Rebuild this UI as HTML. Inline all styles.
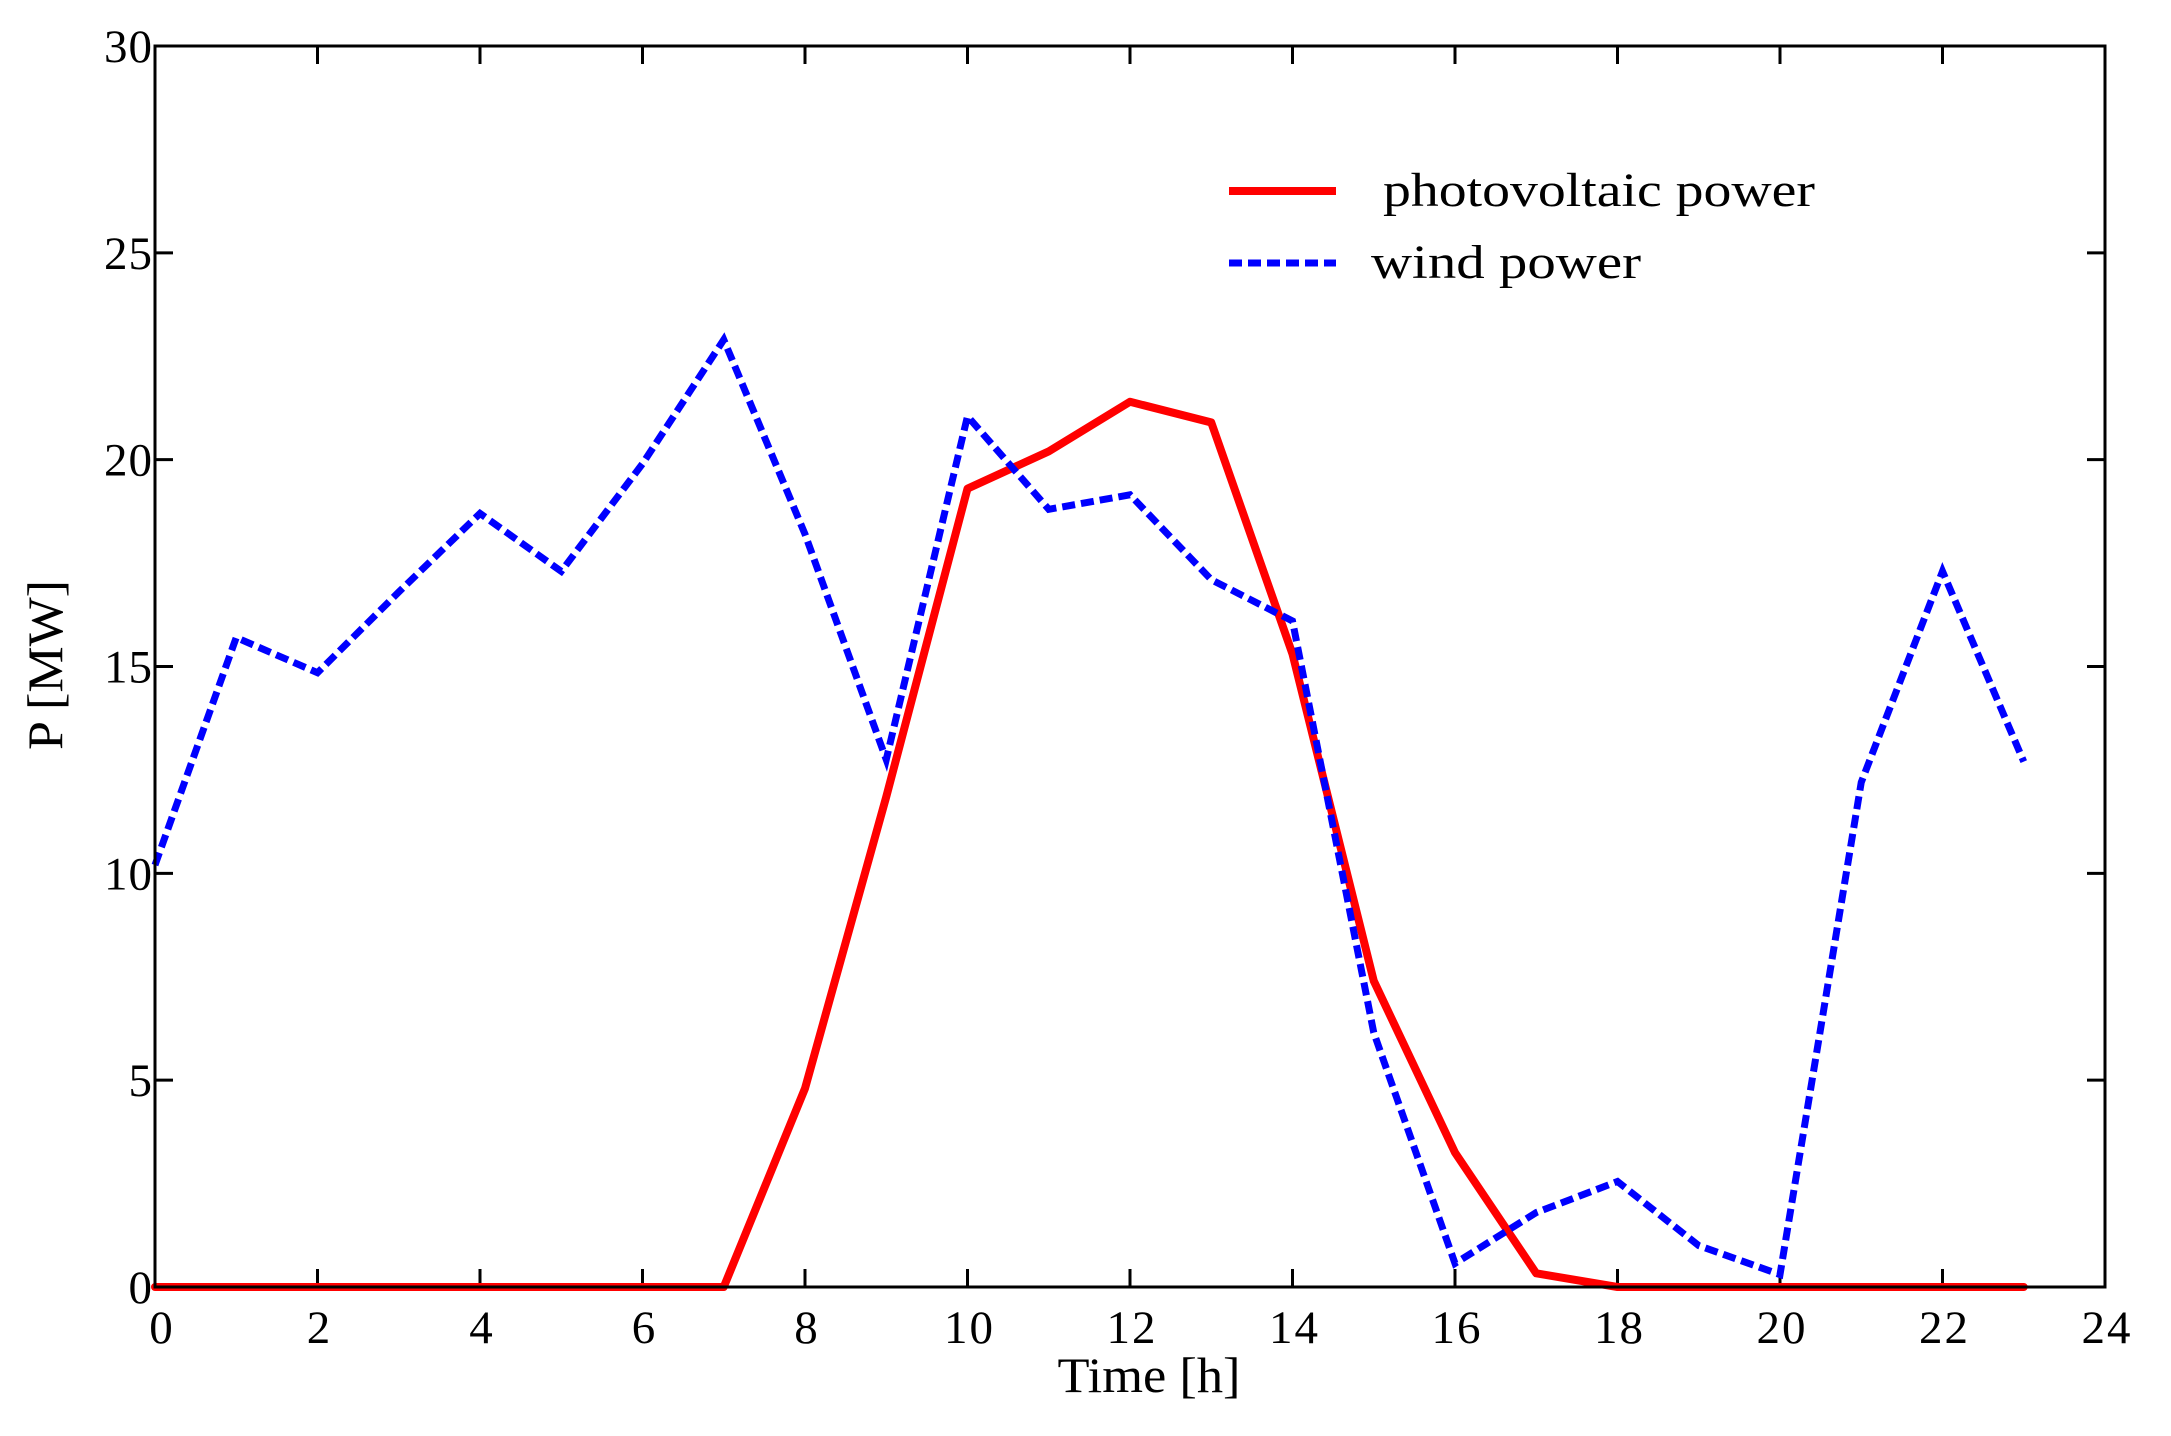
<!DOCTYPE html>
<html><head><meta charset="utf-8"><style>
html,body{margin:0;padding:0;background:#fff}
svg{display:block}
text{font-family:"Liberation Serif",serif;fill:#000}
</style></head><body>
<svg id="chart" width="2171" height="1436" viewBox="0 0 2171 1436" xmlns="http://www.w3.org/2000/svg">
<g id="ticks"></g>
<g id="series"></g>
<rect x="155" y="46" width="1950" height="1241" fill="none" stroke="#000" stroke-width="3"/>
<text x="1149" y="1392" font-size="50" text-anchor="middle" textLength="183" lengthAdjust="spacingAndGlyphs">Time [h]</text>
<text transform="translate(62,665) rotate(-90)" font-size="50" text-anchor="middle" textLength="170" lengthAdjust="spacingAndGlyphs">P [MW]</text>
<g>
<line x1="1229" y1="191" x2="1336" y2="191" stroke="#f00" stroke-width="8"/>
<text x="1383" y="206" font-size="48" textLength="432" lengthAdjust="spacingAndGlyphs">photovoltaic power</text>
<line x1="1229" y1="263" x2="1336" y2="263" stroke="#00f" stroke-width="7" stroke-dasharray="13,6"/>
<text x="1371" y="278" font-size="48" textLength="270" lengthAdjust="spacingAndGlyphs">wind power</text>
</g>
</svg>
<script>
const hours = [0,1,2,3,4,5,6,7,8,9,10,11,12,13,14,15,16,17,18,19,20,21,22,23];
const pvPower = [0,0,0,0,0,0,0,0,4.8,11.85,19.3,20.2,21.4,20.9,15.3,7.4,3.25,0.33,0,0,0,0,0,0];
const windPower = [10.2,15.7,14.85,16.8,18.7,17.3,19.9,22.9,18.2,12.75,21.05,18.8,19.15,17.1,16.1,6.15,0.57,1.8,2.55,1.0,0.3,12.2,17.3,12.7];
const xTicks = [0,2,4,6,8,10,12,14,16,18,20,22,24];
const yTicks = [0,5,10,15,20,25,30];
const X0=155,X1=2105,Y0=1287,Y1=46;
const xs = v => X0 + (X1-X0)*v/24;
const ys = v => Y0 - (Y0-Y1)*v/30;
const NS="http://www.w3.org/2000/svg";
const tg=document.getElementById('ticks');
function mk(tag,attrs,parent){const e=document.createElementNS(NS,tag);for(const k in attrs)e.setAttribute(k,attrs[k]);parent.appendChild(e);return e;}
xTicks.forEach(t=>{
  const x=xs(t);
  const a=mk('line',{x1:x,y1:Y0,x2:x,y2:Y0-18,stroke:'#000','stroke-width':3},tg);
  
  
  const b=mk('line',{x1:x,y1:Y1,x2:x,y2:Y1+18,stroke:'#000','stroke-width':3},tg);
  
  
  const l=mk('text',{x:x+(t===0?7:2),y:1343,'font-size':47,'text-anchor':'middle','letter-spacing':2},tg);
  l.textContent=t;
  
  
});
yTicks.forEach(t=>{
  const y=ys(t);
  const a=mk('line',{x1:X0,y1:y,x2:X0+18,y2:y,stroke:'#000','stroke-width':3},tg);
  
  
  const b=mk('line',{x1:X1,y1:y,x2:X1-18,y2:y,stroke:'#000','stroke-width':3},tg);
  
  
  const l=mk('text',{x:153,y:y+16,'font-size':47,'text-anchor':'end','letter-spacing':1},tg);
  l.textContent=t;
  
  
});
const sg=document.getElementById('series');
const pts=arr=>arr.map((v,i)=>xs(hours[i])+','+ys(v)).join(' ');
const pv=mk('polyline',{points:pts(pvPower),fill:'none',stroke:'#f00','stroke-width':8,'stroke-linejoin':'round','stroke-linecap':'round'},sg);


const wd=mk('polyline',{points:pts(windPower),fill:'none',stroke:'#00f','stroke-width':7,'stroke-dasharray':'13,6'},sg);


</script>
</body></html>
